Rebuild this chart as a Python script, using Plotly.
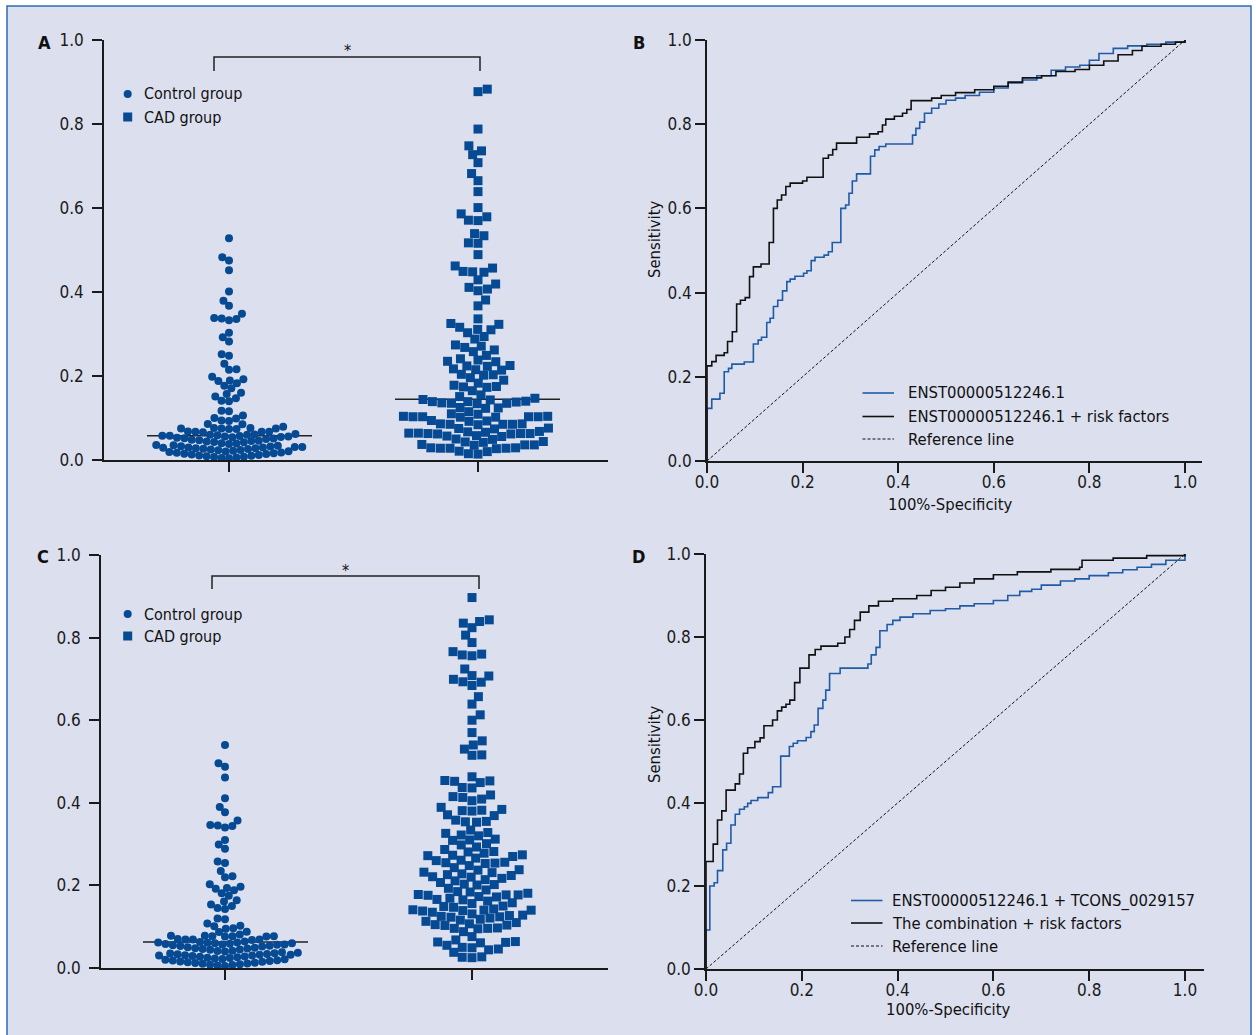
import plotly.graph_objects as go
import numpy as np

W, H = 1256, 1035
FONT = "DejaVu Sans Condensed, Liberation Sans Narrow, Arial Narrow, sans-serif"
MARK = "#064a93"
ROC_BLUE = "#1f5ca8"
BG = "#dcdfee"

# ---------------- data ----------------
groups = ["Control group", "CAD group"]

ctrl_A = [0.528, 0.483, 0.475, 0.452, 0.401, 0.379, 0.367, 0.348, 0.338, 0.337, 0.336, 0.333,
          0.303, 0.292, 0.282, 0.252, 0.248, 0.229, 0.216, 0.215, 0.198, 0.192, 0.189, 0.188,
          0.183, 0.177, 0.171, 0.160, 0.157, 0.151, 0.147, 0.141, 0.140, 0.117, 0.116, 0.106,
          0.100, 0.099, 0.094, 0.093, 0.086, 0.085, 0.079,
          0.076, 0.075, 0.075, 0.074, 0.076, 0.075, 0.074, 0.068, 0.067, 0.067, 0.066, 0.067,
          0.062, 0.061, 0.060, 0.060, 0.059, 0.058, 0.058, 0.057, 0.056, 0.056, 0.055, 0.054,
          0.053, 0.052, 0.051, 0.050, 0.048, 0.047, 0.046, 0.045, 0.044, 0.043, 0.042, 0.040,
          0.039, 0.038, 0.036, 0.035, 0.034, 0.033, 0.032, 0.031, 0.031, 0.030, 0.030, 0.029,
          0.028, 0.028, 0.027, 0.026, 0.025, 0.024, 0.023, 0.022, 0.021, 0.020, 0.019, 0.018,
          0.017, 0.016, 0.015, 0.014, 0.013, 0.012, 0.011, 0.010, 0.009, 0.008, 0.007, 0.006,
          0.005, 0.004]

cad_A = [0.883, 0.877, 0.788, 0.748, 0.736, 0.727, 0.708, 0.682, 0.665, 0.639, 0.601, 0.586,
         0.579, 0.571, 0.570, 0.539, 0.534, 0.517, 0.516, 0.489, 0.462, 0.457,
         0.449, 0.448, 0.447, 0.429, 0.419, 0.411, 0.407, 0.403, 0.381, 0.367, 0.336, 0.325,
         0.323, 0.316, 0.311, 0.310, 0.303, 0.294, 0.288, 0.274, 0.271, 0.268, 0.262, 0.258,
         0.249, 0.241, 0.238, 0.235, 0.234, 0.225, 0.224, 0.223, 0.217, 0.215, 0.214, 0.204,
         0.203, 0.202, 0.196, 0.190, 0.183, 0.178, 0.175, 0.174, 0.173, 0.165, 0.155, 0.151,
         0.147, 0.144, 0.143, 0.140, 0.139, 0.139, 0.138, 0.136, 0.135, 0.135, 0.134, 0.125,
         0.124, 0.123, 0.115, 0.110, 0.109, 0.104, 0.103, 0.103, 0.103, 0.102, 0.103, 0.104,
         0.102, 0.094, 0.093, 0.092, 0.086, 0.085, 0.085, 0.084, 0.086, 0.085, 0.076, 0.075,
         0.074, 0.068, 0.067, 0.066, 0.064, 0.063, 0.063, 0.062, 0.063, 0.064, 0.062, 0.058,
         0.057, 0.056, 0.050, 0.049, 0.044, 0.043, 0.042, 0.037, 0.036, 0.036, 0.035, 0.029,
         0.028, 0.028, 0.027, 0.029, 0.028, 0.021, 0.020, 0.015, 0.014]

median_A = [0.058, 0.1445]

ctrl_C = [0.540, 0.496, 0.487, 0.461, 0.411, 0.390, 0.377, 0.357, 0.346, 0.345, 0.344, 0.340,
          0.310, 0.299, 0.289, 0.258, 0.254, 0.235, 0.222, 0.220, 0.203, 0.197, 0.194, 0.192,
          0.188, 0.181, 0.175, 0.164, 0.161, 0.154, 0.150, 0.145, 0.143, 0.120, 0.118, 0.108,
          0.102, 0.101, 0.096, 0.095, 0.088, 0.087, 0.081,
          0.078, 0.077, 0.077, 0.076, 0.078, 0.077, 0.076, 0.070, 0.069, 0.069, 0.068, 0.069,
          0.064, 0.063, 0.062, 0.062, 0.061, 0.060, 0.060, 0.059, 0.058, 0.057, 0.057, 0.056,
          0.055, 0.054, 0.053, 0.052, 0.050, 0.049, 0.048, 0.047, 0.046, 0.045, 0.044, 0.042,
          0.041, 0.040, 0.038, 0.037, 0.036, 0.035, 0.034, 0.033, 0.032, 0.032, 0.031, 0.030,
          0.030, 0.029, 0.028, 0.027, 0.026, 0.025, 0.024, 0.023, 0.022, 0.021, 0.020, 0.019,
          0.018, 0.017, 0.016, 0.015, 0.014, 0.013, 0.012, 0.011, 0.010, 0.009, 0.008, 0.007,
          0.006, 0.005]

cad_C = [0.897, 0.843, 0.839, 0.835, 0.824, 0.806, 0.788, 0.766, 0.760, 0.758, 0.756, 0.724,
         0.708, 0.707, 0.699, 0.693, 0.692, 0.684, 0.657, 0.639, 0.613, 0.600, 0.570, 0.550,
         0.540, 0.530, 0.516, 0.515,
         0.463, 0.454, 0.453, 0.452, 0.449, 0.437, 0.436, 0.419, 0.415, 0.413, 0.409, 0.405,
         0.389, 0.384, 0.382, 0.381, 0.380, 0.371, 0.369, 0.358, 0.355, 0.354, 0.353, 0.334,
         0.328, 0.326, 0.322, 0.320, 0.312, 0.310, 0.309, 0.301, 0.298, 0.293, 0.287, 0.282,
         0.281, 0.278, 0.274, 0.273, 0.272, 0.270, 0.266, 0.261, 0.260, 0.256, 0.255, 0.254,
         0.253, 0.248, 0.243, 0.238, 0.237, 0.232, 0.231, 0.228, 0.226, 0.224, 0.221, 0.220,
         0.217, 0.214, 0.211, 0.207, 0.203, 0.202, 0.201, 0.193, 0.189, 0.185, 0.184, 0.181,
         0.178, 0.177, 0.177, 0.176, 0.173, 0.172, 0.169, 0.166, 0.165, 0.162, 0.158, 0.156,
         0.150, 0.149, 0.147, 0.143, 0.141, 0.140, 0.140, 0.139, 0.138, 0.135, 0.131, 0.128,
         0.127, 0.125, 0.124, 0.123, 0.121, 0.118, 0.116, 0.113, 0.110, 0.107, 0.105, 0.104,
         0.103, 0.097, 0.096, 0.096, 0.095, 0.088, 0.076, 0.068, 0.064, 0.063, 0.062, 0.061,
         0.055, 0.050, 0.049, 0.046, 0.044, 0.038, 0.027, 0.026, 0.025]

median_C = [0.063]

# ROC curves (1 - specificity, sensitivity)
B_blue_fpr = [0, 0, 0.010, 0.027, 0.036, 0.045, 0.052, 0.078, 0.097, 0.107, 0.114, 0.125, 0.132,
              0.139, 0.148, 0.158, 0.167, 0.174, 0.184, 0.202, 0.209, 0.218, 0.226, 0.245, 0.254,
              0.262, 0.280, 0.290, 0.297, 0.304, 0.313, 0.342, 0.351, 0.360, 0.374, 0.430, 0.437,
              0.445, 0.455, 0.470, 0.485, 0.500, 0.520, 0.540, 0.570, 0.600, 0.630, 0.660, 0.690,
              0.720, 0.750, 0.780, 0.800, 0.820, 0.850, 0.880, 0.920, 0.960, 1.0]
B_blue_tpr = [0, 0.125, 0.147, 0.161, 0.212, 0.220, 0.230, 0.235, 0.278, 0.287, 0.294, 0.329, 0.339,
              0.367, 0.382, 0.404, 0.426, 0.432, 0.439, 0.446, 0.452, 0.476, 0.484, 0.489, 0.497,
              0.519, 0.600, 0.608, 0.636, 0.665, 0.682, 0.724, 0.739, 0.747, 0.753, 0.774, 0.790,
              0.805, 0.826, 0.838, 0.848, 0.857, 0.862, 0.868, 0.876, 0.886, 0.898, 0.905, 0.915,
              0.928, 0.936, 0.940, 0.952, 0.968, 0.980, 0.986, 0.990, 0.995, 1.0]
B_black_fpr = [0, 0, 0.010, 0.019, 0.036, 0.043, 0.053, 0.062, 0.070, 0.080, 0.089, 0.097, 0.113,
               0.130, 0.139, 0.147, 0.156, 0.165, 0.174, 0.200, 0.209, 0.243, 0.254, 0.263, 0.271,
               0.313, 0.340, 0.358, 0.367, 0.374, 0.392, 0.409, 0.418, 0.427, 0.470, 0.490, 0.520,
               0.560, 0.600, 0.630, 0.660, 0.700, 0.730, 0.770, 0.800, 0.830, 0.860, 0.890, 0.910,
               0.950, 0.980, 1.0]
B_black_tpr = [0, 0.226, 0.236, 0.251, 0.257, 0.284, 0.307, 0.373, 0.382, 0.388, 0.438, 0.461, 0.468,
               0.519, 0.600, 0.620, 0.632, 0.652, 0.660, 0.665, 0.674, 0.719, 0.727, 0.740, 0.755,
               0.769, 0.777, 0.782, 0.798, 0.812, 0.819, 0.826, 0.835, 0.856, 0.862, 0.868, 0.875,
               0.882, 0.890, 0.900, 0.910, 0.915, 0.925, 0.930, 0.940, 0.950, 0.965, 0.975, 0.985,
               0.990, 0.995, 1.0]

D_blue_fpr = [0, 0, 0.008, 0.017, 0.024, 0.035, 0.043, 0.052, 0.061, 0.070, 0.080, 0.087, 0.094,
              0.108, 0.130, 0.139, 0.156, 0.174, 0.182, 0.191, 0.209, 0.219, 0.226, 0.234, 0.244,
              0.250, 0.258, 0.280, 0.338, 0.345, 0.355, 0.363, 0.378, 0.390, 0.405, 0.432, 0.468,
              0.500, 0.530, 0.560, 0.600, 0.630, 0.655, 0.680, 0.700, 0.740, 0.770, 0.800, 0.840,
              0.870, 0.900, 0.930, 0.960, 1.0]
D_blue_tpr = [0, 0.094, 0.200, 0.208, 0.237, 0.287, 0.303, 0.347, 0.373, 0.385, 0.391, 0.399, 0.406,
              0.413, 0.425, 0.439, 0.513, 0.536, 0.544, 0.550, 0.558, 0.572, 0.588, 0.628, 0.648,
              0.672, 0.712, 0.725, 0.735, 0.757, 0.775, 0.815, 0.830, 0.840, 0.848, 0.856, 0.864,
              0.868, 0.875, 0.880, 0.888, 0.900, 0.910, 0.915, 0.925, 0.935, 0.940, 0.948, 0.955,
              0.962, 0.968, 0.975, 0.985, 1.0]
D_black_fpr = [0, 0, 0.015, 0.024, 0.033, 0.042, 0.061, 0.070, 0.078, 0.087, 0.102, 0.113, 0.121,
               0.139, 0.149, 0.158, 0.167, 0.175, 0.185, 0.196, 0.215, 0.228, 0.240, 0.275, 0.290,
               0.300, 0.310, 0.322, 0.340, 0.360, 0.390, 0.440, 0.470, 0.500, 0.530, 0.560, 0.600,
               0.650, 0.720, 0.780, 0.785, 0.850, 0.920, 1.0]
D_black_tpr = [0, 0.259, 0.301, 0.359, 0.381, 0.431, 0.446, 0.470, 0.520, 0.533, 0.548, 0.557, 0.586,
               0.600, 0.622, 0.631, 0.638, 0.648, 0.690, 0.725, 0.757, 0.770, 0.778, 0.785, 0.800,
               0.818, 0.840, 0.860, 0.875, 0.886, 0.892, 0.900, 0.912, 0.920, 0.930, 0.940, 0.950,
               0.957, 0.963, 0.968, 0.985, 0.990, 0.996, 1.0]
ref_line = [0, 1]

legend_B = ["ENST00000512246.1", "ENST00000512246.1 + risk factors", "Reference line"]
legend_D = ["ENST00000512246.1 + TCONS_0029157", "The combination + risk factors", "Reference line"]

# ---------------- helpers (layout only) ----------------
def fx(p):
    return p / W

def fy(p):
    return 1 - p / H

def swarm(vals_px, d):
    vals = np.asarray(vals_px, dtype=float)
    order = np.argsort(vals, kind="stable")
    xs = np.zeros(len(vals))
    placed = []
    for k, i in enumerate(order):
        y = vals[i]
        cands = [0.0]
        for (px_, py_) in placed:
            dy = y - py_
            if abs(dy) < d:
                dx = np.sqrt(d * d - dy * dy)
                cands += [px_ + dx, px_ - dx]
        sgn = 1 if k % 2 else -1
        cands.sort(key=lambda c: (round(abs(c), 4), sgn * c))
        chosen = 0.0
        for c in cands:
            if all((c - a) ** 2 + (y - b) ** 2 >= d * d - 1e-6 for a, b in placed):
                chosen = c
                break
        xs[i] = chosen
        placed.append((chosen, y))
    return xs

# panel pixel geometry
PA = dict(x0=104, x1=608, y0=40, y1=460, g1=229, g2=478)
PB = dict(x0=707, x1=1202, y0=40, y1=461, xr=478)
PC = dict(x0=101, x1=608, y0=555, y1=968, g1=225, g2=472)
PD = dict(x0=706, x1=1204, y0=554, y1=969, xr=479)

fig = go.Figure()

def dot_panel(P, ctrl, cad, medians, xa, ya, show_cad_median, d_cad):
    unit = P["g2"] - P["g1"]
    ypx = P["y1"] - P["y0"]
    spans = [(P["g1"] - 82, P["g1"] + 83), (P["g2"] - 83, P["g2"] + 82)]
    for gi, m in enumerate(medians):
        if gi == 1 and not show_cad_median:
            continue
        a, b = spans[gi]
        xg = 1 + gi
        gpx = P["g1"] if gi == 0 else P["g2"]
        fig.add_trace(go.Scatter(x=[xg + (a - gpx) / unit, xg + (b - gpx) / unit], y=[m, m],
                                 mode="lines", line=dict(color="#222", width=1.5),
                                 xaxis=xa, yaxis=ya, showlegend=False, hoverinfo="skip"))
    offs_c = swarm(np.array(ctrl) * ypx, 7.5)
    offs_d = swarm(np.array(cad) * ypx, d_cad)
    fig.add_trace(go.Scatter(x=1 + offs_c / unit, y=ctrl, mode="markers", name=groups[0],
                             marker=dict(symbol="circle", size=8, color=MARK, line=dict(width=0)),
                             xaxis=xa, yaxis=ya, showlegend=False, cliponaxis=False))
    fig.add_trace(go.Scatter(x=2 + offs_d / unit, y=cad, mode="markers", name=groups[1],
                             marker=dict(symbol="square", size=9, color=MARK, line=dict(width=0)),
                             xaxis=xa, yaxis=ya, showlegend=False, cliponaxis=False))

dot_panel(PA, ctrl_A, cad_A, median_A, "x", "y", True, 9.6)
dot_panel(PC, ctrl_C, cad_C, median_C, "x3", "y3", False, 9.8)

def roc_panel(bx, by, kx, ky, xa, ya):
    fig.add_trace(go.Scatter(x=ref_line, y=ref_line, mode="lines",
                             line=dict(color="#111", width=1, dash="3px,2px"),
                             xaxis=xa, yaxis=ya, showlegend=False, hoverinfo="skip"))
    fig.add_trace(go.Scatter(x=bx, y=by, mode="lines", line=dict(color=ROC_BLUE, width=1.6, shape="hv"),
                             xaxis=xa, yaxis=ya, showlegend=False))
    fig.add_trace(go.Scatter(x=kx, y=ky, mode="lines", line=dict(color="#111", width=1.6, shape="hv"),
                             xaxis=xa, yaxis=ya, showlegend=False))

roc_panel(B_blue_fpr, B_blue_tpr, B_black_fpr, B_black_tpr, "x2", "y2")
roc_panel(D_blue_fpr, D_blue_tpr, D_black_fpr, D_black_tpr, "x4", "y4")

tickfont = dict(family=FONT, size=17, color="#1a1a1a")
axis_common = dict(showline=True, linecolor="#1a1a1a", linewidth=1.5, ticks="outside",
                   ticklen=10, tickwidth=1.5, tickcolor="#1a1a1a", showgrid=False,
                   zeroline=False, tickfont=tickfont, fixedrange=True, automargin=False)

def dom(P):
    return [fx(P["x0"]), fx(P["x1"])], [fy(P["y1"]), fy(P["y0"])]

layout_axes = {}
for name, P in (("", PA), ("3", PC)):
    dx, dy = dom(P)
    unit = P["g2"] - P["g1"]
    r0 = 1 - (P["g1"] - P["x0"]) / unit
    r1 = 1 + (P["x1"] - P["g1"]) / unit
    layout_axes["xaxis" + name] = dict(axis_common, domain=dx, range=[r0, r1], tickvals=[1, 2],
                                       showticklabels=False, anchor="y" + name)
    layout_axes["yaxis" + name] = dict(axis_common, domain=dy, range=[0, 1],
                                       tickvals=[0, 0.2, 0.4, 0.6, 0.8, 1.0],
                                       tickformat=".1f", anchor="x" + name, ticklabelstandoff=5)
for name, P in (("2", PB), ("4", PD)):
    dx, dy = dom(P)
    r1 = (P["x1"] - P["x0"]) / P["xr"]
    layout_axes["xaxis" + name] = dict(axis_common, domain=dx, range=[0, r1],
                                       tickvals=[0, 0.2, 0.4, 0.6, 0.8, 1.0], tickformat=".1f",
                                       anchor="y" + name, ticklabelstandoff=-5)
    layout_axes["yaxis" + name] = dict(axis_common, domain=dy, range=[0, 1],
                                       tickvals=[0, 0.2, 0.4, 0.6, 0.8, 1.0], tickformat=".1f",
                                       anchor="x" + name)

shapes = []
shapes.append(dict(type="rect", xref="paper", yref="paper", x0=fx(7), x1=fx(1251), y0=fy(1040), y1=fy(6),
                   fillcolor=BG, line=dict(color="#2d6cb4", width=1.5), layer="below"))
for (xl, xr, yt, yb) in ((214, 480, 57, 71), (212, 479, 576, 589)):
    shapes.append(dict(type="path", xref="paper", yref="paper",
                       path=f"M {fx(xl)},{fy(yb)} L {fx(xl)},{fy(yt)} L {fx(xr)},{fy(yt)} L {fx(xr)},{fy(yb)}",
                       line=dict(color="#222", width=1.5)))

annotations = []
def txt(x, y, s, size=16.5, anchor="left", bold=False, angle=0):
    annotations.append(dict(x=fx(x), y=fy(y), xref="paper", yref="paper", text=(f"<b>{s}</b>" if bold else s),
                            showarrow=False, xanchor=anchor, yanchor="middle", textangle=angle,
                            font=dict(family=FONT, size=size, color="#111")))

txt(44, 42, "A", 18, "center", True)
txt(639, 42, "B", 18, "center", True)
txt(43, 556, "C", 18, "center", True)
txt(638, 556, "D", 18, "center", True)
txt(347, 51, "*", 16, "center")
txt(345, 570, "*", 16, "center")

for (cy_c, cy_s) in ((94, 117), (614, 636)):
    shapes.append(dict(type="circle", xref="paper", yref="paper", x0=fx(123.7), x1=fx(131.7),
                       y0=fy(cy_c + 4), y1=fy(cy_c - 4), fillcolor=MARK, line=dict(width=0)))
    shapes.append(dict(type="rect", xref="paper", yref="paper", x0=fx(123.2), x1=fx(132.2),
                       y0=fy(cy_s + 4.5), y1=fy(cy_s - 4.5), fillcolor=MARK, line=dict(width=0)))
    txt(141.5, cy_c, groups[0], 16)
    txt(141.5, cy_s, groups[1], 16)

def roc_legend(lx0, lx1, tx, rows, labels):
    styles = [dict(color=ROC_BLUE, width=1.6), dict(color="#111", width=1.6),
              dict(color="#111", width=1, dash="3px,2px")]
    for r, lab, st in zip(rows, labels, styles):
        shapes.append(dict(type="line", xref="paper", yref="paper", x0=fx(lx0), x1=fx(lx1),
                           y0=fy(r), y1=fy(r), line=st))
        txt(tx, r, lab)

roc_legend(862.5, 894, 906, (393, 416.5, 439), legend_B)
roc_legend(851, 882.5, 890, (900.5, 923, 946), legend_D)

txt(654, 240, "Sensitivity", 16.5, "center", angle=-90)
txt(654, 745, "Sensitivity", 16.5, "center", angle=-90)
txt(950, 505, "100%-Specificity", 16.5, "center")
txt(948, 1009, "100%-Specificity", 16.5, "center")

fig.update_layout(width=W, height=H, margin=dict(l=0, r=0, t=0, b=0),
                  paper_bgcolor="white", plot_bgcolor="white", showlegend=False,
                  shapes=shapes, annotations=annotations, font=dict(family=FONT), **layout_axes)

fig.write_html("out.html", config={"displayModeBar": False},
               post_script="document.body.style.margin='0';document.body.style.overflow='hidden';")
